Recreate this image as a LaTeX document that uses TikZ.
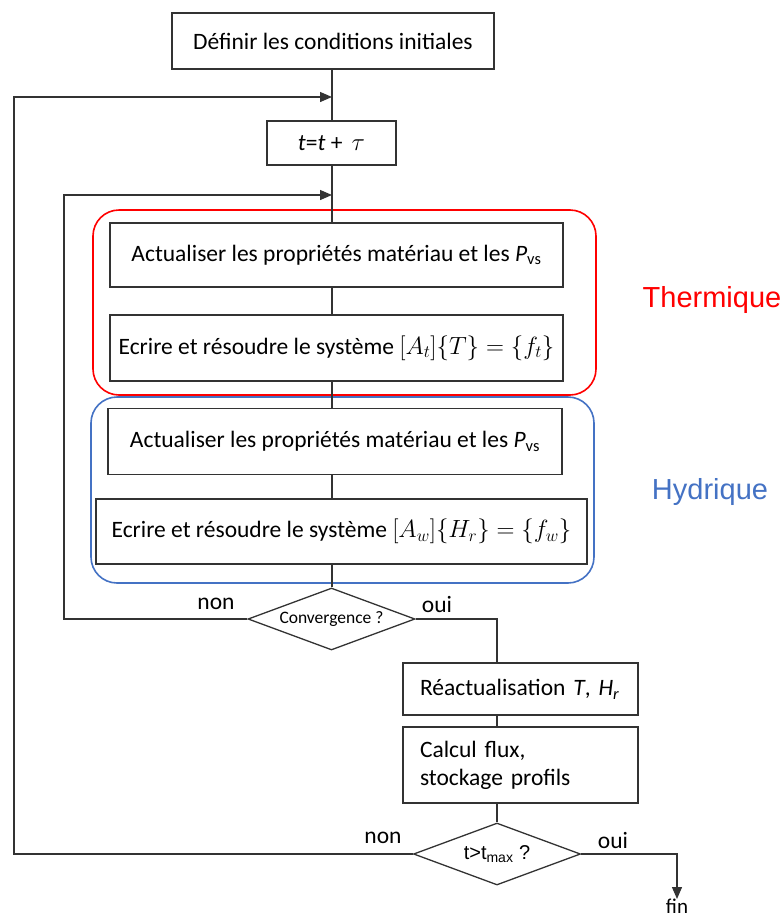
\documentclass[tikz,border=0pt]{standalone}
\usepackage{fontspec}
\setmainfont{Carlito}
\newfontfamily\arialfont{Liberation Sans}
\usetikzlibrary{arrows.meta, positioning, shapes.geometric}
\definecolor{thermred}{RGB}{255,0,0}
\definecolor{hydroblue}{RGB}{68,114,196}

\begin{document}
\begin{tikzpicture}[
			x=1pt, y=-1pt,
			font=\fontsize{23.5}{28}\selectfont,
			line/.style={draw=black!80, line width=1.3pt},
			arr/.style={line, -{Triangle[length=12pt,width=10pt]}},
			block/.style={line, rectangle, inner sep=0pt, align=center},
			leftblock/.style={line, rectangle, inner xsep=17pt, inner ysep=0pt, align=left, text width=201pt},
			test/.style={line, diamond, inner sep=0pt, aspect=2.7, minimum width=167pt, minimum height=62pt},
			group/.style={line width=1.6pt, rounded corners=26pt},
			answer/.style={inner sep=0pt}
			]
			\useasboundingbox (0,0) rectangle (784,924);
			
			% main column
			\node[block, minimum width=322pt, minimum height=56pt] (init) at (333,41) {Définir les conditions initiales};
			\node[block, minimum width=129pt, minimum height=44pt] (tstep) at (331.5,143) {\textit{t}=\textit{t} + \,$\tau$};
			\node[block, minimum width=453pt, minimum height=64pt] (propT) at (336.5,255) {Actualiser les propriétés matériau et les \textit{P}\textsubscript{vs}};
			\node[block, minimum width=453pt, minimum height=66pt] (solveT) at (336.5,348) {Ecrire et résoudre le système $[A_t]\{T\} = \{f_t\}$};
			\node[block, minimum width=454pt, minimum height=66pt] (propH) at (335,441.5) {Actualiser les propriétés matériau et les \textit{P}\textsubscript{vs}};
			\node[block, minimum width=491pt, minimum height=65pt] (solveH) at (341.5,531.5) {Ecrire et résoudre le système $[A_w]\{H_r\} = \{f_w\}$};
			\node[test, font=\fontsize{17.5}{20}\selectfont] (conv) at (331.5,619) {Convergence ?};
			
			% right column
			\node[leftblock, minimum height=52pt] (react) at (520.5,689) {Réactualisation \textit{T}, \textit{H}\textsubscript{\textit{r}}};
			\node[leftblock, minimum height=76pt] (flux) at (520.5,765) {Calcul flux,\\stockage profils};
			\node[test, font=\arialfont\fontsize{20}{24}\selectfont] (tmax) at (497,854) {t>t\textsubscript{max} ?};
			\node[answer, anchor=north, font=\fontsize{21}{24}\selectfont] (fin) at (677,899) {fin};
			
			% groups
			\draw[group, thermred] (93,210) rectangle (596,395);
			\draw[group, hydroblue] (91,397) rectangle (594,583);
			\node[text=thermred, font=\arialfont\fontsize{29}{34}\selectfont] (therm) at (712,300) {Thermique};
			\node[text=hydroblue, font=\arialfont\fontsize{29}{34}\selectfont] (hydro) at (710,492) {Hydrique};
			
			\coordinate (spine) at (332,0);
			\coordinate (branch) at (497,0);
			\coordinate (outer) at (14,0);
			\coordinate (inner) at (64,0);
			\coordinate (joinOut) at (332,97);
			\coordinate (joinIn) at (332,195);
			
			\foreach \a/\b in {init/tstep, tstep/propT, propT/solveT, solveT/propH, propH/solveH, solveH/conv}
				\draw[line] (\a.south -| spine) -- (\b.north -| spine);
			
			\draw[line] (conv.east) -| (react.north -| branch);
			\draw[line] (react.south -| branch) -- (flux.north -| branch);
			\draw[line] (flux.south -| branch) -- (tmax.north);
			\draw[arr] (tmax.east) -| (fin.north);
			
			% loops
			\draw[arr] (conv.west) -- (conv.west -| inner) |- (joinIn);
			\draw[arr] (tmax.west) -- (tmax.west -| outer) |- (joinOut);
			
			\node[answer] (non1) at (216,604) {non};
			\node[answer] (oui1) at (437,604) {oui};
			\node[answer] (non2) at (383,838) {non};
			\node[answer] (oui2) at (613,840) {oui};
		\end{tikzpicture}
\end{document}
